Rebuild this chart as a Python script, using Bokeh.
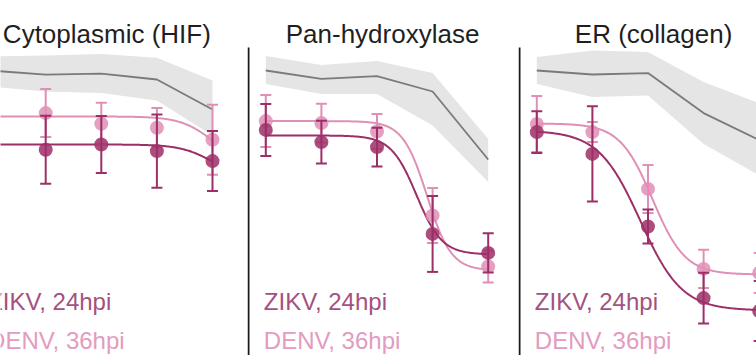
import numpy as np
from bokeh.plotting import figure
from bokeh.layouts import row
from bokeh.models import Range1d
from bokeh.core.properties import value
from bokeh.embed import file_html
from bokeh.resources import INLINE

# ---------------- data ----------------
log_conc = [-1, 0, 1, 2, 3]
panel_titles = ["Cytoplasmic (HIF)", "Pan-hydroxylase", "ER (collagen)"]
series_labels = ["ZIKV, 24hpi", "DENV, 36hpi"]

# uninfected control (grey line + band)
ctrl_mean = [[1.000, 0.979, 0.984, 0.955, 0.805],
             [1.000, 0.958, 0.972, 0.895, 0.555],
             [1.000, 0.980, 0.987, 0.787, 0.652]]
ctrl_upper = [[1.070, 1.075, 1.083, 1.064, 0.950],
              [1.072, 1.028, 1.047, 0.988, 0.658],
              [1.067, 1.100, 1.092, 0.942, 0.837]]
ctrl_lower = [[0.920, 0.895, 0.887, 0.850, 0.675],
              [0.933, 0.883, 0.883, 0.725, 0.442],
              [0.933, 0.867, 0.875, 0.633, 0.476]]

zikv_mean = [[0.630, 0.604, 0.630, 0.597, 0.547],
             [0.703, 0.642, 0.617, 0.183, 0.088],
             [0.692, 0.583, 0.220, -0.138, -0.203]]
zikv_err = [[0.120, 0.170, 0.143, 0.183, 0.150],
            [0.130, 0.107, 0.097, 0.190, 0.098],
            [0.104, 0.238, 0.085, 0.127, 0.150]]
denv_mean = [[0.770, 0.787, 0.734, 0.714, 0.654],
             [0.747, 0.737, 0.695, 0.275, 0.020],
             [0.733, 0.692, 0.408, 0.008, -0.012]]
denv_err = [[0.100, 0.120, 0.105, 0.098, 0.175],
            [0.130, 0.097, 0.088, 0.137, 0.080],
            [0.140, 0.050, 0.120, 0.096, 0.100]]

# fitted dose-response parameters: top, bottom, logIC50, hill
zikv_fit = [[0.630, 0.460, 3.00, 1.50],
            [0.675, 0.080, 1.71, 1.90],
            [0.700, -0.200, 0.86, 1.16]]
denv_fit = [[0.770, 0.530, 3.00, 1.50],
            [0.747, 0.000, 1.90, 2.00],
            [0.735, -0.020, 1.08, 1.48]]

# ---------------- styling / layout ----------------
FONT = "Liberation Sans"
ZIKV_C = "#9c2f67"
ZIKV_TXT = "#a3527f"
DENV_C = "#e08fb6"
DENV_TXT = "#e39bbf"
GREY_LINE = "#7a7a7a"
GREY_BAND = "#e5e5e6"

PX_PER_UNIT = 55.6
H = 355
panel_widths = [247, 271, 238]
first_point_px = [-10.4, 18.3, 18.3]
y_range = Range1d(-0.425, 1.35)


def four_pl(x, top, bottom, c, h):
    return bottom + (top - bottom) / (1.0 + 10 ** (h * (x - c)))


figs = []
for i in range(3):
    w = panel_widths[i]
    xs = -1 - first_point_px[i] / PX_PER_UNIT
    xe = xs + w / PX_PER_UNIT
    p = figure(width=w, height=H, x_range=Range1d(xs, xe), y_range=y_range,
               output_backend="svg", toolbar_location=None,
               x_axis_location=None, y_axis_location=None,
               min_border=0, outline_line_color=None,
               background_fill_color="white", border_fill_color="white")
    p.xgrid.visible = False
    p.ygrid.visible = False

    # control band + line
    p.varea(x=log_conc, y1=ctrl_lower[i], y2=ctrl_upper[i], fill_color=GREY_BAND)
    p.line(log_conc, ctrl_mean[i], line_color=GREY_LINE, line_width=1.8)

    # fitted curves
    xf = np.linspace(log_conc[0], log_conc[-1], 300)
    for fit, col in ((denv_fit[i], DENV_C), (zikv_fit[i], ZIKV_C)):
        p.line(xf, four_pl(xf, *fit), line_color=col, line_width=2)

    # error bars + points
    for mean, err, col in ((denv_mean[i], denv_err[i], DENV_C),
                           (zikv_mean[i], zikv_err[i], ZIKV_C)):
        m = np.array(mean)
        e = np.array(err)
        p.segment(x0=log_conc, y0=m - e, x1=log_conc, y1=m + e,
                  line_color=col, line_width=2)
        p.scatter(log_conc, m + e, marker="dash", size=11, line_color=col, line_width=2)
        p.scatter(log_conc, m - e, marker="dash", size=11, line_color=col, line_width=2)
        p.scatter(log_conc, mean, size=14, fill_color=col, fill_alpha=0.85,
                  line_color=None)

    # title
    p.text(x=[1.1], y=[1.185], text=[panel_titles[i]], text_font=value(FONT),
           text_font_size="26px", text_color="#1f1f1f", text_align="center",
           text_baseline="alphabetic")
    # legend labels
    p.text(x=[-1.036], y=[-0.155], text=[series_labels[0]], text_font=value(FONT),
           text_font_size="24px", text_color=ZIKV_TXT, text_align="left",
           text_baseline="alphabetic")
    p.text(x=[-1.036], y=[-0.352], text=[series_labels[1]], text_font=value(FONT),
           text_font_size="24px", text_color=DENV_TXT, text_align="left",
           text_baseline="alphabetic")

    # panel axis line (left edge)
    if i > 0:
        xl = xs + 1.0 / PX_PER_UNIT
        p.segment(x0=[xl], y0=[1.115], x1=[xl], y1=[-0.6],
                  line_color="#1a1a1a", line_width=2)
    figs.append(p)

layout = row(*figs, spacing=0)
open("out.html", "w").write(file_html(layout, INLINE))
